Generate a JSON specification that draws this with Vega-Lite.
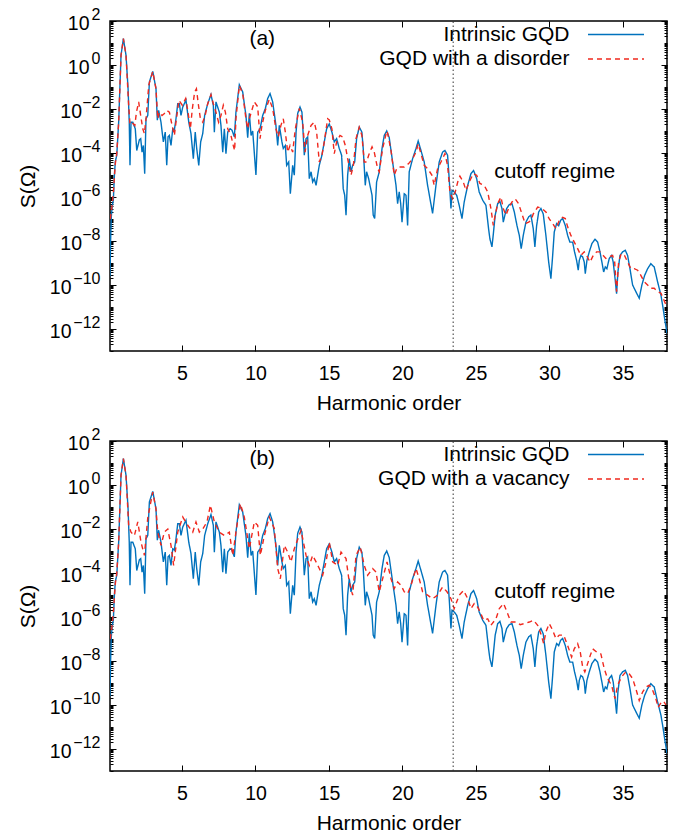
{
"$schema": "https://vega.github.io/schema/vega-lite/v6.json",
"padding": {"left": 16, "top": 5, "right": 5, "bottom": 5},
"background": "white",
"config": {
  "font": "Liberation Sans",
  "view": {"stroke": "black", "strokeWidth": 1.5},
  "axis": {"grid": false, "domain": false, "labelFontSize": 19.5, "titleFontSize": 21, "titleFontWeight": "normal", "labelColor": "black", "titleColor": "black", "tickColor": "black", "tickWidth": 1, "labelFont": "Liberation Sans", "titleFont": "Liberation Sans"},
  "legend": {"title": null, "symbolType": "M-4,0H4", "symbolSize": 196, "symbolStrokeWidth": 1.5, "labelFontSize": 21, "labelFont": "Liberation Sans", "labelColor": "black", "labelAlign": "right", "labelOffset": -57, "rowPadding": 2.5, "padding": 0, "labelLimit": 500}
},
"datasets": {
"intrinsic": [{"h":0.10,"S":2.5e-10},{"h":0.14,"S":1e-8},{"h":0.19,"S":1.3e-7},{"h":0.24,"S":3.2e-7},{"h":0.33,"S":7.9e-7},{"h":0.40,"S":1e-5},{"h":0.46,"S":4e-5},{"h":0.56,"S":7.9e-5},{"h":0.69,"S":2.5e-3},{"h":0.85,"S":2.75},{"h":1.01,"S":15.8},{"h":1.19,"S":2.75},{"h":1.33,"S":8.3e-2},{"h":1.41,"S":2.5e-3},{"h":1.46,"S":2.75e-5},{"h":1.53,"S":2.5e-3},{"h":1.65,"S":2.5e-3},{"h":1.82,"S":1.26e-3},{"h":1.92,"S":1.3e-4},{"h":2.10,"S":4e-4},{"h":2.19,"S":4.5e-4},{"h":2.28,"S":1.1e-4},{"h":2.37,"S":2.2e-4},{"h":2.46,"S":1.15e-5},{"h":2.55,"S":3.6e-3},{"h":2.67,"S":5.1e-3},{"h":2.78,"S":0.17},{"h":3.01,"S":0.51},{"h":3.23,"S":8.3e-2},{"h":3.32,"S":3.1e-3},{"h":3.41,"S":8.7e-3},{"h":3.57,"S":2.5e-3},{"h":3.73,"S":3.2e-4},{"h":3.86,"S":8.9e-4},{"h":3.96,"S":2.75e-5},{"h":4.05,"S":5.4e-4},{"h":4.14,"S":6.3e-4},{"h":4.25,"S":2.2e-4},{"h":4.37,"S":1.26e-3},{"h":4.48,"S":1.1e-3},{"h":4.59,"S":3.6e-3},{"h":4.71,"S":1.74e-2},{"h":4.82,"S":1.74e-2},{"h":4.93,"S":5.1e-3},{"h":5.05,"S":1.23e-2},{"h":5.27,"S":2.5e-2},{"h":5.46,"S":2.5e-3},{"h":5.61,"S":7.6e-4},{"h":5.77,"S":5.5e-5},{"h":5.90,"S":8.9e-4},{"h":6.00,"S":1.6e-4},{"h":6.14,"S":2.75e-5},{"h":6.27,"S":3.2e-4},{"h":6.41,"S":7.6e-4},{"h":6.54,"S":5.1e-3},{"h":6.75,"S":1.74e-2},{"h":6.97,"S":4.5e-2},{"h":7.13,"S":1.48e-2},{"h":7.20,"S":8.9e-4},{"h":7.31,"S":2.1e-2},{"h":7.54,"S":7.2e-3},{"h":7.65,"S":1.8e-3},{"h":7.77,"S":1.1e-4},{"h":7.88,"S":1.26e-3},{"h":7.99,"S":9.3e-5},{"h":8.11,"S":8.9e-4},{"h":8.27,"S":1.26e-3},{"h":8.40,"S":1.1e-3},{"h":8.56,"S":5.4e-4},{"h":8.67,"S":7.2e-3},{"h":8.90,"S":0.126},{"h":9.13,"S":5.9e-2},{"h":9.35,"S":5e-3},{"h":9.47,"S":5e-4},{"h":9.58,"S":6.3e-3},{"h":9.70,"S":6.3e-4},{"h":9.81,"S":1e-3},{"h":10.03,"S":1e-5},{"h":10.15,"S":8.9e-4},{"h":10.31,"S":1.26e-3},{"h":10.49,"S":5.1e-3},{"h":10.67,"S":1.05e-2},{"h":10.83,"S":3e-2},{"h":10.99,"S":5e-2},{"h":11.17,"S":2.1e-2},{"h":11.39,"S":1.8e-3},{"h":11.51,"S":2.2e-4},{"h":11.62,"S":1.8e-3},{"h":11.80,"S":3.2e-4},{"h":11.89,"S":1.6e-4},{"h":12.03,"S":2.2e-4},{"h":12.12,"S":2.75e-5},{"h":12.26,"S":3.9e-5},{"h":12.37,"S":1.4e-6},{"h":12.53,"S":2.75e-5},{"h":12.64,"S":9.8e-6},{"h":12.76,"S":8.9e-4},{"h":12.87,"S":6.3e-3},{"h":13.03,"S":1.23e-2},{"h":13.16,"S":7.2e-3},{"h":13.25,"S":6.3e-4},{"h":13.32,"S":7.9e-5},{"h":13.44,"S":4.5e-4},{"h":13.55,"S":5.4e-4},{"h":13.66,"S":6.8e-6},{"h":13.78,"S":1.4e-5},{"h":13.89,"S":4.8e-6},{"h":14.00,"S":6.8e-6},{"h":14.12,"S":3.4e-6},{"h":14.23,"S":9.8e-6},{"h":14.34,"S":2.75e-5},{"h":14.52,"S":7.9e-5},{"h":14.68,"S":3.2e-4},{"h":14.84,"S":1.26e-3},{"h":15.02,"S":2.1e-3},{"h":15.20,"S":8.9e-4},{"h":15.36,"S":3.2e-4},{"h":15.52,"S":4.5e-4},{"h":15.70,"S":1.6e-4},{"h":15.86,"S":7.9e-5},{"h":15.97,"S":2.4e-6},{"h":16.07,"S":1.2e-6},{"h":16.16,"S":1.5e-7},{"h":16.27,"S":9.8e-6},{"h":16.38,"S":5.5e-5},{"h":16.50,"S":1.4e-5},{"h":16.61,"S":2.75e-5},{"h":16.75,"S":3.9e-5},{"h":16.88,"S":4.5e-4},{"h":17.06,"S":1.5e-3},{"h":17.24,"S":8.9e-4},{"h":17.33,"S":1.6e-4},{"h":17.47,"S":3.4e-6},{"h":17.56,"S":1.4e-5},{"h":17.70,"S":6.8e-6},{"h":17.79,"S":3.4e-6},{"h":17.93,"S":1.2e-6},{"h":18.01,"S":1.5e-7},{"h":18.11,"S":1.05e-7},{"h":18.24,"S":4.8e-6},{"h":18.42,"S":1.4e-5},{"h":18.61,"S":1.6e-4},{"h":18.76,"S":6.3e-4},{"h":18.93,"S":1e-3},{"h":19.10,"S":5e-4},{"h":19.33,"S":3.9e-5},{"h":19.56,"S":3.4e-6},{"h":19.67,"S":5e-7},{"h":19.78,"S":1.7e-6},{"h":19.88,"S":5e-7},{"h":19.97,"S":7.2e-8},{"h":20.12,"S":1.4e-6},{"h":20.24,"S":1.2e-6},{"h":20.35,"S":5.1e-8},{"h":20.46,"S":1.4e-5},{"h":20.69,"S":5.5e-5},{"h":20.92,"S":1.6e-4},{"h":21.07,"S":3.5e-4},{"h":21.26,"S":1.3e-4},{"h":21.48,"S":3.9e-5},{"h":21.71,"S":3.4e-6},{"h":22.05,"S":1.8e-7},{"h":22.28,"S":3.4e-6},{"h":22.50,"S":3.9e-5},{"h":22.73,"S":1.1e-4},{"h":22.89,"S":1.3e-4},{"h":23.07,"S":7.9e-5},{"h":23.18,"S":6.8e-6},{"h":23.30,"S":3e-7},{"h":23.37,"S":2e-6},{"h":23.52,"S":1.7e-6},{"h":23.69,"S":1.2e-6},{"h":23.86,"S":4.2e-7},{"h":24.05,"S":1.05e-7},{"h":24.20,"S":5.9e-7},{"h":24.44,"S":3.4e-6},{"h":24.66,"S":1.15e-5},{"h":24.84,"S":1.6e-5},{"h":25.05,"S":6.8e-6},{"h":25.22,"S":1.7e-6},{"h":25.46,"S":7.1e-7},{"h":25.68,"S":4.2e-7},{"h":25.86,"S":3.6e-8},{"h":25.95,"S":1.26e-8},{"h":26.09,"S":5.4e-9},{"h":26.18,"S":2e-8},{"h":26.31,"S":1.5e-7},{"h":26.48,"S":5e-7},{"h":26.63,"S":6.3e-7},{"h":26.77,"S":3e-7},{"h":26.86,"S":7.2e-8},{"h":26.97,"S":1.5e-7},{"h":27.09,"S":3e-7},{"h":27.27,"S":4.5e-7},{"h":27.45,"S":5e-7},{"h":27.61,"S":2.1e-7},{"h":27.79,"S":5.1e-8},{"h":27.95,"S":1.8e-8},{"h":28.08,"S":4.5e-9},{"h":28.22,"S":1.8e-8},{"h":28.40,"S":7.2e-8},{"h":28.59,"S":1.26e-7},{"h":28.74,"S":1.5e-7},{"h":28.90,"S":3.6e-8},{"h":29.01,"S":5.4e-9},{"h":29.13,"S":5e-8},{"h":29.27,"S":2.1e-7},{"h":29.42,"S":3e-7},{"h":29.58,"S":1.7e-7},{"h":29.76,"S":1.8e-8},{"h":29.95,"S":1.1e-9},{"h":30.10,"S":1.95e-10},{"h":30.22,"S":2.2e-9},{"h":30.33,"S":2.6e-8},{"h":30.49,"S":6.2e-8},{"h":30.63,"S":5e-8},{"h":30.76,"S":8.7e-8},{"h":30.90,"S":1.05e-7},{"h":31.08,"S":5.1e-8},{"h":31.24,"S":1.8e-8},{"h":31.39,"S":8.9e-9},{"h":31.58,"S":8.9e-9},{"h":31.71,"S":3.2e-9},{"h":31.85,"S":1.3e-9},{"h":31.96,"S":4.7e-10},{"h":32.03,"S":1.3e-9},{"h":32.14,"S":2.2e-9},{"h":32.26,"S":1.9e-9},{"h":32.37,"S":1.1e-9},{"h":32.44,"S":3.3e-10},{"h":32.55,"S":1.3e-9},{"h":32.71,"S":3.2e-9},{"h":32.89,"S":7.6e-9},{"h":33.10,"S":1.2e-8},{"h":33.28,"S":8.9e-9},{"h":33.44,"S":3.2e-9},{"h":33.57,"S":1.1e-9},{"h":33.69,"S":3.9e-10},{"h":33.80,"S":6.6e-10},{"h":33.91,"S":5.5e-10},{"h":34.07,"S":1.6e-9},{"h":34.23,"S":2.2e-9},{"h":34.34,"S":1.1e-9},{"h":34.48,"S":1.6e-10},{"h":34.57,"S":4e-11},{"h":34.66,"S":3.9e-10},{"h":34.80,"S":2.2e-9},{"h":34.98,"S":3.2e-9},{"h":35.16,"S":3.8e-9},{"h":35.32,"S":2.2e-9},{"h":35.48,"S":5.5e-10},{"h":35.66,"S":1e-10},{"h":35.88,"S":5e-11},{"h":36.11,"S":2.5e-11},{"h":36.29,"S":1e-10},{"h":36.48,"S":2.75e-10},{"h":36.68,"S":5.5e-10},{"h":36.90,"S":9.3e-10},{"h":37.13,"S":6.6e-10},{"h":37.36,"S":1.4e-10},{"h":37.59,"S":3.4e-11},{"h":37.74,"S":8.3e-12},{"h":37.88,"S":2e-12},{"h":38.00,"S":6.3e-13}],
"disorder": [{"h":0.12,"S":1e-7},{"h":0.24,"S":4e-7},{"h":0.33,"S":1.6e-6},{"h":0.46,"S":3.2e-5},{"h":0.56,"S":1e-4},{"h":0.69,"S":2.5e-3},{"h":0.85,"S":2.75},{"h":1.01,"S":15.8},{"h":1.19,"S":2.75},{"h":1.37,"S":1.48e-2},{"h":1.46,"S":2.1e-3},{"h":1.58,"S":2.5e-3},{"h":1.79,"S":1.8e-3},{"h":1.90,"S":7.2e-3},{"h":2.05,"S":2.1e-2},{"h":2.19,"S":5e-3},{"h":2.33,"S":1.26e-3},{"h":2.44,"S":7.6e-4},{"h":2.55,"S":3.6e-3},{"h":2.74,"S":0.126},{"h":3.01,"S":0.51},{"h":3.23,"S":8.3e-2},{"h":3.35,"S":3.6e-3},{"h":3.46,"S":7.2e-3},{"h":3.64,"S":5.1e-3},{"h":3.80,"S":6.3e-3},{"h":3.96,"S":8.7e-3},{"h":4.14,"S":7.2e-3},{"h":4.28,"S":2.5e-3},{"h":4.48,"S":6.3e-4},{"h":4.59,"S":2.5e-3},{"h":4.79,"S":2.5e-2},{"h":5.02,"S":1.48e-2},{"h":5.25,"S":3e-2},{"h":5.41,"S":7.2e-3},{"h":5.57,"S":1.26e-3},{"h":5.70,"S":1e-2},{"h":5.86,"S":5.9e-2},{"h":5.98,"S":8.3e-2},{"h":6.12,"S":1.48e-2},{"h":6.25,"S":3.6e-3},{"h":6.41,"S":2.5e-3},{"h":6.57,"S":5e-3},{"h":6.75,"S":1.74e-2},{"h":6.97,"S":4.5e-2},{"h":7.13,"S":1.74e-2},{"h":7.31,"S":7.2e-3},{"h":7.49,"S":2.5e-3},{"h":7.65,"S":5.1e-3},{"h":7.81,"S":1.48e-2},{"h":7.95,"S":7.2e-3},{"h":8.11,"S":1.26e-3},{"h":8.33,"S":6.3e-4},{"h":8.49,"S":2.2e-4},{"h":8.58,"S":1.3e-4},{"h":8.67,"S":3.6e-3},{"h":8.90,"S":0.117},{"h":9.13,"S":5e-2},{"h":9.35,"S":3.6e-3},{"h":9.47,"S":1.26e-3},{"h":9.58,"S":3.6e-3},{"h":9.92,"S":2.1e-2},{"h":10.15,"S":1.26e-2},{"h":10.31,"S":4.5e-4},{"h":10.44,"S":1.8e-3},{"h":10.67,"S":8.7e-3},{"h":10.94,"S":2.75e-2},{"h":11.17,"S":1.05e-2},{"h":11.39,"S":1.26e-3},{"h":11.55,"S":5.4e-4},{"h":11.73,"S":1.8e-3},{"h":11.89,"S":3.6e-3},{"h":12.03,"S":8.9e-4},{"h":12.19,"S":1.1e-4},{"h":12.35,"S":2.2e-4},{"h":12.53,"S":1.1e-4},{"h":12.71,"S":1.26e-3},{"h":12.98,"S":1.05e-2},{"h":13.21,"S":2.5e-3},{"h":13.37,"S":1.1e-4},{"h":13.55,"S":6.3e-4},{"h":13.78,"S":1.8e-3},{"h":14.00,"S":2.5e-3},{"h":14.16,"S":8.9e-4},{"h":14.34,"S":3.9e-5},{"h":14.52,"S":7.9e-5},{"h":14.68,"S":3.2e-4},{"h":14.91,"S":3.6e-3},{"h":15.02,"S":3.2e-3},{"h":15.20,"S":1.26e-3},{"h":15.36,"S":9.3e-5},{"h":15.52,"S":3.2e-4},{"h":15.75,"S":6.3e-4},{"h":15.93,"S":5.4e-4},{"h":16.11,"S":2.2e-4},{"h":16.27,"S":5.5e-5},{"h":16.50,"S":9.8e-6},{"h":16.66,"S":2.75e-5},{"h":16.84,"S":4.5e-4},{"h":17.06,"S":1.5e-3},{"h":17.24,"S":6.3e-4},{"h":17.40,"S":3.9e-5},{"h":17.56,"S":3.9e-5},{"h":17.70,"S":7.9e-5},{"h":17.93,"S":1.9e-4},{"h":18.08,"S":1.1e-4},{"h":18.31,"S":1.95e-5},{"h":18.42,"S":1.4e-5},{"h":18.65,"S":1.6e-4},{"h":18.93,"S":1e-3},{"h":18.99,"S":7.9e-4},{"h":19.22,"S":1.3e-4},{"h":19.44,"S":9.8e-6},{"h":19.61,"S":1.95e-5},{"h":19.78,"S":2.3e-5},{"h":20.12,"S":2.3e-5},{"h":20.42,"S":3.3e-5},{"h":20.69,"S":5.5e-5},{"h":20.92,"S":1.1e-4},{"h":21.07,"S":2.6e-4},{"h":21.26,"S":9.3e-5},{"h":21.48,"S":2.75e-5},{"h":21.71,"S":1.95e-5},{"h":22.00,"S":1e-5},{"h":22.16,"S":3.4e-6},{"h":22.39,"S":1.95e-5},{"h":22.62,"S":3.9e-5},{"h":22.89,"S":9.3e-5},{"h":23.07,"S":2.75e-5},{"h":23.23,"S":1.7e-6},{"h":23.41,"S":8.3e-7},{"h":23.59,"S":1.7e-6},{"h":23.76,"S":4.8e-6},{"h":23.91,"S":8.9e-6},{"h":24.14,"S":4.8e-6},{"h":24.32,"S":2e-6},{"h":24.54,"S":4.8e-6},{"h":24.82,"S":1.15e-5},{"h":25.05,"S":9.8e-6},{"h":25.27,"S":4.1e-6},{"h":25.56,"S":3.4e-6},{"h":25.80,"S":1.7e-6},{"h":26.02,"S":3e-7},{"h":26.18,"S":5.1e-8},{"h":26.31,"S":1.5e-7},{"h":26.48,"S":5e-7},{"h":26.70,"S":1e-6},{"h":26.86,"S":3e-7},{"h":27.04,"S":1.5e-7},{"h":27.22,"S":3e-7},{"h":27.45,"S":5.9e-7},{"h":27.67,"S":8.3e-7},{"h":27.90,"S":5e-7},{"h":28.13,"S":1.7e-7},{"h":28.35,"S":6.2e-8},{"h":28.59,"S":7.2e-8},{"h":28.74,"S":8.7e-8},{"h":28.90,"S":1.7e-7},{"h":29.20,"S":3.5e-7},{"h":29.49,"S":3e-7},{"h":29.76,"S":2.1e-7},{"h":29.99,"S":1e-7},{"h":30.22,"S":6.2e-8},{"h":30.44,"S":3.6e-8},{"h":30.67,"S":8.7e-8},{"h":30.90,"S":1.2e-7},{"h":31.08,"S":1.05e-7},{"h":31.24,"S":4.4e-8},{"h":31.46,"S":1.8e-8},{"h":31.69,"S":8.9e-9},{"h":31.92,"S":4.5e-9},{"h":32.14,"S":2.2e-9},{"h":32.37,"S":3.2e-9},{"h":32.53,"S":2.2e-9},{"h":32.76,"S":1.1e-9},{"h":32.98,"S":2.2e-9},{"h":33.21,"S":3.2e-9},{"h":33.44,"S":3.2e-9},{"h":33.66,"S":2.2e-9},{"h":33.84,"S":1.6e-9},{"h":34.07,"S":1.9e-9},{"h":34.30,"S":2.2e-9},{"h":34.44,"S":1.1e-9},{"h":34.57,"S":5e-11},{"h":34.71,"S":1.1e-9},{"h":34.88,"S":2.6e-9},{"h":35.11,"S":2.2e-9},{"h":35.32,"S":1.1e-9},{"h":35.54,"S":5.5e-10},{"h":35.77,"S":5.5e-10},{"h":36.00,"S":4.7e-10},{"h":36.22,"S":2.75e-10},{"h":36.45,"S":1.4e-10},{"h":36.68,"S":1e-10},{"h":36.90,"S":7.1e-11},{"h":37.13,"S":7.1e-11},{"h":37.36,"S":5e-11},{"h":37.59,"S":4.2e-11},{"h":37.74,"S":2.5e-11},{"h":37.93,"S":1.26e-11},{"h":38.00,"S":1e-11}],
"vacancy": [{"h":0.12,"S":1e-7},{"h":0.24,"S":4e-7},{"h":0.33,"S":1.6e-6},{"h":0.46,"S":3.2e-5},{"h":0.56,"S":1e-4},{"h":0.69,"S":2.5e-3},{"h":0.85,"S":2.75},{"h":1.01,"S":15.8},{"h":1.19,"S":2.75},{"h":1.37,"S":1.48e-2},{"h":1.53,"S":7.2e-3},{"h":1.76,"S":5e-3},{"h":1.99,"S":2.1e-2},{"h":2.21,"S":2.5e-3},{"h":2.44,"S":6.3e-4},{"h":2.67,"S":3.2e-2},{"h":3.01,"S":0.48},{"h":3.23,"S":7.9e-2},{"h":3.35,"S":7.2e-3},{"h":3.57,"S":1.8e-3},{"h":3.80,"S":7.2e-3},{"h":4.03,"S":1e-2},{"h":4.25,"S":1.8e-3},{"h":4.43,"S":2.2e-4},{"h":4.71,"S":7.2e-3},{"h":5.05,"S":3.5e-2},{"h":5.39,"S":1.48e-2},{"h":5.73,"S":7.2e-3},{"h":5.95,"S":2.1e-2},{"h":6.18,"S":7.2e-3},{"h":6.41,"S":1e-2},{"h":6.70,"S":2.1e-2},{"h":6.93,"S":0.12},{"h":7.20,"S":2.1e-2},{"h":7.54,"S":7.2e-3},{"h":7.88,"S":5.1e-3},{"h":8.22,"S":7.2e-3},{"h":8.45,"S":6.3e-4},{"h":8.67,"S":7.2e-3},{"h":8.97,"S":0.14},{"h":9.24,"S":3.5e-2},{"h":9.58,"S":1.26e-3},{"h":9.92,"S":2.1e-2},{"h":10.15,"S":1.48e-2},{"h":10.33,"S":6.3e-4},{"h":10.60,"S":5e-3},{"h":10.94,"S":3.5e-2},{"h":11.28,"S":1.05e-2},{"h":11.51,"S":1.6e-4},{"h":11.69,"S":5.5e-5},{"h":11.96,"S":1.8e-3},{"h":12.19,"S":8.9e-4},{"h":12.41,"S":3.2e-4},{"h":12.64,"S":1.26e-3},{"h":13.10,"S":8.7e-3},{"h":13.44,"S":6.3e-4},{"h":13.66,"S":2.2e-4},{"h":13.89,"S":6.3e-4},{"h":14.12,"S":3.2e-4},{"h":14.34,"S":1.6e-4},{"h":14.57,"S":7.9e-5},{"h":14.80,"S":3.2e-4},{"h":15.02,"S":2.5e-3},{"h":15.25,"S":3.2e-4},{"h":15.59,"S":2.2e-4},{"h":15.82,"S":8.9e-4},{"h":16.16,"S":4.5e-4},{"h":16.38,"S":3.9e-5},{"h":16.61,"S":9.8e-6},{"h":16.84,"S":6.3e-4},{"h":17.13,"S":1.5e-3},{"h":17.40,"S":2.2e-4},{"h":17.63,"S":7.9e-5},{"h":17.97,"S":1.6e-4},{"h":18.20,"S":1.1e-4},{"h":18.42,"S":1.4e-5},{"h":18.65,"S":5.5e-5},{"h":18.95,"S":3.2e-4},{"h":19.22,"S":5.5e-5},{"h":19.44,"S":1.95e-5},{"h":19.67,"S":3.9e-5},{"h":19.90,"S":2.75e-5},{"h":20.12,"S":1.4e-5},{"h":20.35,"S":1.15e-5},{"h":20.58,"S":2.75e-5},{"h":20.92,"S":1.6e-4},{"h":21.14,"S":5.5e-5},{"h":21.37,"S":1.4e-5},{"h":21.71,"S":9.8e-6},{"h":22.05,"S":6.8e-6},{"h":22.39,"S":9.8e-6},{"h":22.73,"S":2.3e-5},{"h":23.03,"S":1.4e-5},{"h":23.30,"S":6.8e-6},{"h":23.52,"S":2.4e-6},{"h":23.86,"S":9.8e-6},{"h":24.16,"S":1.6e-5},{"h":24.44,"S":6.8e-6},{"h":24.66,"S":2.4e-6},{"h":24.88,"S":4.1e-6},{"h":25.12,"S":2.8e-6},{"h":25.34,"S":1.4e-6},{"h":25.52,"S":7.1e-7},{"h":25.80,"S":8.3e-7},{"h":26.02,"S":4.2e-7},{"h":26.36,"S":8.3e-7},{"h":26.59,"S":2.4e-6},{"h":26.88,"S":4.1e-6},{"h":27.16,"S":1.4e-6},{"h":27.38,"S":5.9e-7},{"h":27.79,"S":5.9e-7},{"h":28.01,"S":4.5e-7},{"h":28.29,"S":5e-7},{"h":28.63,"S":5.9e-7},{"h":28.92,"S":7.1e-7},{"h":29.20,"S":4.2e-7},{"h":29.42,"S":1.7e-7},{"h":29.61,"S":6.2e-8},{"h":29.76,"S":2.1e-7},{"h":29.99,"S":5e-7},{"h":30.22,"S":2.5e-7},{"h":30.44,"S":1.05e-7},{"h":30.67,"S":1.5e-7},{"h":30.97,"S":1.5e-7},{"h":31.24,"S":5.1e-8},{"h":31.51,"S":1.5e-8},{"h":31.69,"S":3.6e-8},{"h":31.92,"S":6.2e-8},{"h":32.10,"S":2.5e-8},{"h":32.26,"S":5.4e-9},{"h":32.41,"S":3.2e-9},{"h":32.60,"S":7.6e-9},{"h":32.78,"S":1.8e-8},{"h":32.94,"S":3.6e-8},{"h":33.23,"S":2.5e-8},{"h":33.50,"S":2.1e-8},{"h":33.73,"S":4.5e-9},{"h":33.95,"S":1.6e-9},{"h":34.23,"S":7.9e-10},{"h":34.46,"S":1.95e-10},{"h":34.64,"S":7.9e-10},{"h":34.91,"S":1.9e-9},{"h":35.20,"S":3.2e-9},{"h":35.43,"S":2.6e-9},{"h":35.66,"S":1.6e-9},{"h":35.88,"S":5.5e-10},{"h":36.11,"S":1.6e-10},{"h":36.34,"S":3.9e-10},{"h":36.56,"S":6.6e-10},{"h":36.79,"S":7.9e-10},{"h":37.02,"S":4.7e-10},{"h":37.24,"S":1.95e-10},{"h":37.40,"S":7.9e-11},{"h":37.59,"S":1.26e-10},{"h":37.77,"S":1.5e-10},{"h":37.93,"S":1e-10}]
},
"spacing": 90,
"bounds": "flush",
"resolve": {"scale": {"color": "independent", "strokeDash": "independent"}, "legend": {"color": "independent", "strokeDash": "independent"}},
"vconcat": [
{
  "width": 557, "height": 330,
  "resolve": {"axis": {"x": "independent", "y": "independent"}},
  "layer": [
    {"data": {"name": "intrinsic"},
     "mark": {"type": "line", "strokeWidth": 1.4, "clip": true},
     "encoding": {
       "x": {"field": "h", "type": "quantitative", "scale": {"domain": [0.1, 38], "nice": false, "zero": false},
             "axis": {"orient": "bottom", "values": [5,10,15,20,25,30,35], "tickSize": -6, "labelPadding": 19, "labelFlush": false, "title": "Harmonic order", "titlePadding": 10}},
       "y": {"field": "S", "type": "quantitative", "scale": {"type": "log", "domain": [1e-13, 100], "nice": false},
             "axis": {"orient": "left", "values": [1e-12,1e-10,1e-8,1e-6,1e-4,1e-2,1,100], "tickSize": -6, "labelOffset": 2.5, "labelExpr": "'10'", "title": "S(Ω)", "titlePadding": 11,
                      "labelPadding": {"condition": [{"test": "datum.value < 1e-9", "value": 45}, {"test": "datum.value < 0.1", "value": 34.5}], "value": 27}}},
       "color": {"datum": "Intrinsic GQD", "type": "nominal", "scale": {"domain": ["Intrinsic GQD", "GQD with a disorder"], "range": ["#0072bd", "#f0281e"]},
                 "legend": {"orient": "none", "legendX": 495.5, "legendY": 3}},
       "strokeDash": {"datum": "Intrinsic GQD", "type": "nominal", "scale": {"domain": ["Intrinsic GQD", "GQD with a disorder"], "range": [[1,0],[5,4]]},
                 "legend": {"orient": "none", "legendX": 495.5, "legendY": 3}}
     }},
    {"data": {"name": "disorder"},
     "mark": {"type": "line", "strokeWidth": 1.4, "clip": true},
     "encoding": {
       "x": {"field": "h", "type": "quantitative", "scale": {"domain": [0.1, 38], "nice": false, "zero": false},
             "axis": {"orient": "top", "values": [5,10,15,20,25,30,35], "tickSize": -6, "labels": false, "title": null}},
       "y": {"field": "S", "type": "quantitative", "scale": {"type": "log", "domain": [1e-13, 100], "nice": false},
             "axis": {"orient": "right", "values": [1e-12,1e-10,1e-8,1e-6,1e-4,1e-2,1,100], "tickSize": -6, "labels": false, "title": null}},
       "color": {"datum": "GQD with a disorder", "type": "nominal"},
       "strokeDash": {"datum": "GQD with a disorder", "type": "nominal"}
     }},
    {"data": {"values": [{}]},
     "mark": {"type": "rule", "strokeDash": [1.5, 2.5], "color": "#333333", "strokeWidth": 1},
     "encoding": {
       "x": {"datum": 23.45, "type": "quantitative", "scale": {"domain": [0.1, 38], "nice": false, "zero": false}, "axis": null},
       "y": {"datum": 1e-13, "type": "quantitative", "scale": {"type": "log", "domain": [1e-13, 100], "nice": false},
             "axis": {"orient": "left", "values": [1e-12,1e-10,1e-8,1e-6,1e-4,1e-2,1,100], "ticks": false, "labelPadding": 10, "labelFontSize": 16, "labelOffset": -7, "title": null,
                      "labelExpr": "datum.value < 1e-11 ? '−12' : datum.value < 1e-9 ? '−10' : datum.value < 1e-7 ? '−8' : datum.value < 1e-5 ? '−6' : datum.value < 1e-3 ? '−4' : datum.value < 0.1 ? '−2' : datum.value < 10 ? '0' : '2'"}},
       "y2": {"datum": 100}}},
    {"data": {"values": [{}]},
     "mark": {"type": "text", "text": "(a)", "fontSize": 21, "align": "center", "baseline": "middle", "color": "black"},
     "encoding": {
       "x": {"datum": 10.46, "type": "quantitative", "scale": {"domain": [0.1, 38], "nice": false, "zero": false}, "axis": null},
       "y": {"datum": 15, "type": "quantitative", "scale": {"type": "log", "domain": [1e-13, 100], "nice": false},
             "axis": {"orient": "left", "tickCount": 200, "tickSize": -3, "labels": false, "title": null}}}},
    {"data": {"values": [{}]},
     "mark": {"type": "text", "text": "cutoff regime", "fontSize": 21, "align": "left", "baseline": "middle", "color": "black"},
     "encoding": {
       "x": {"datum": 26.24, "type": "quantitative", "scale": {"domain": [0.1, 38], "nice": false, "zero": false}, "axis": null},
       "y": {"datum": 1.4e-5, "type": "quantitative", "scale": {"type": "log", "domain": [1e-13, 100], "nice": false},
             "axis": {"orient": "right", "tickCount": 200, "tickSize": -3, "labels": false, "title": null}}}}
  ]
},
{
  "width": 557, "height": 330,
  "resolve": {"axis": {"x": "independent", "y": "independent"}},
  "layer": [
    {"data": {"name": "intrinsic"},
     "mark": {"type": "line", "strokeWidth": 1.4, "clip": true},
     "encoding": {
       "x": {"field": "h", "type": "quantitative", "scale": {"domain": [0.1, 38], "nice": false, "zero": false},
             "axis": {"orient": "bottom", "values": [5,10,15,20,25,30,35], "tickSize": -6, "labelPadding": 19, "labelFlush": false, "title": "Harmonic order", "titlePadding": 10}},
       "y": {"field": "S", "type": "quantitative", "scale": {"type": "log", "domain": [1e-13, 100], "nice": false},
             "axis": {"orient": "left", "values": [1e-12,1e-10,1e-8,1e-6,1e-4,1e-2,1,100], "tickSize": -6, "labelOffset": 2.5, "labelExpr": "'10'", "title": "S(Ω)", "titlePadding": 11,
                      "labelPadding": {"condition": [{"test": "datum.value < 1e-9", "value": 45}, {"test": "datum.value < 0.1", "value": 34.5}], "value": 27}}},
       "color": {"datum": "Intrinsic GQD", "type": "nominal", "scale": {"domain": ["Intrinsic GQD", "GQD with a vacancy"], "range": ["#0072bd", "#f0281e"]},
                 "legend": {"orient": "none", "legendX": 495.5, "legendY": 3}},
       "strokeDash": {"datum": "Intrinsic GQD", "type": "nominal", "scale": {"domain": ["Intrinsic GQD", "GQD with a vacancy"], "range": [[1,0],[5,4]]},
                 "legend": {"orient": "none", "legendX": 495.5, "legendY": 3}}
     }},
    {"data": {"name": "vacancy"},
     "mark": {"type": "line", "strokeWidth": 1.4, "clip": true},
     "encoding": {
       "x": {"field": "h", "type": "quantitative", "scale": {"domain": [0.1, 38], "nice": false, "zero": false},
             "axis": {"orient": "top", "values": [5,10,15,20,25,30,35], "tickSize": -6, "labels": false, "title": null}},
       "y": {"field": "S", "type": "quantitative", "scale": {"type": "log", "domain": [1e-13, 100], "nice": false},
             "axis": {"orient": "right", "values": [1e-12,1e-10,1e-8,1e-6,1e-4,1e-2,1,100], "tickSize": -6, "labels": false, "title": null}},
       "color": {"datum": "GQD with a vacancy", "type": "nominal"},
       "strokeDash": {"datum": "GQD with a vacancy", "type": "nominal"}
     }},
    {"data": {"values": [{}]},
     "mark": {"type": "rule", "strokeDash": [1.5, 2.5], "color": "#333333", "strokeWidth": 1},
     "encoding": {
       "x": {"datum": 23.45, "type": "quantitative", "scale": {"domain": [0.1, 38], "nice": false, "zero": false}, "axis": null},
       "y": {"datum": 1e-13, "type": "quantitative", "scale": {"type": "log", "domain": [1e-13, 100], "nice": false},
             "axis": {"orient": "left", "values": [1e-12,1e-10,1e-8,1e-6,1e-4,1e-2,1,100], "ticks": false, "labelPadding": 10, "labelFontSize": 16, "labelOffset": -7, "title": null,
                      "labelExpr": "datum.value < 1e-11 ? '−12' : datum.value < 1e-9 ? '−10' : datum.value < 1e-7 ? '−8' : datum.value < 1e-5 ? '−6' : datum.value < 1e-3 ? '−4' : datum.value < 0.1 ? '−2' : datum.value < 10 ? '0' : '2'"}},
       "y2": {"datum": 100}}},
    {"data": {"values": [{}]},
     "mark": {"type": "text", "text": "(b)", "fontSize": 21, "align": "center", "baseline": "middle", "color": "black"},
     "encoding": {
       "x": {"datum": 10.46, "type": "quantitative", "scale": {"domain": [0.1, 38], "nice": false, "zero": false}, "axis": null},
       "y": {"datum": 15, "type": "quantitative", "scale": {"type": "log", "domain": [1e-13, 100], "nice": false},
             "axis": {"orient": "left", "tickCount": 200, "tickSize": -3, "labels": false, "title": null}}}},
    {"data": {"values": [{}]},
     "mark": {"type": "text", "text": "cutoff regime", "fontSize": 21, "align": "left", "baseline": "middle", "color": "black"},
     "encoding": {
       "x": {"datum": 26.24, "type": "quantitative", "scale": {"domain": [0.1, 38], "nice": false, "zero": false}, "axis": null},
       "y": {"datum": 1.4e-5, "type": "quantitative", "scale": {"type": "log", "domain": [1e-13, 100], "nice": false},
             "axis": {"orient": "right", "tickCount": 200, "tickSize": -3, "labels": false, "title": null}}}}
  ]
}
]
}
